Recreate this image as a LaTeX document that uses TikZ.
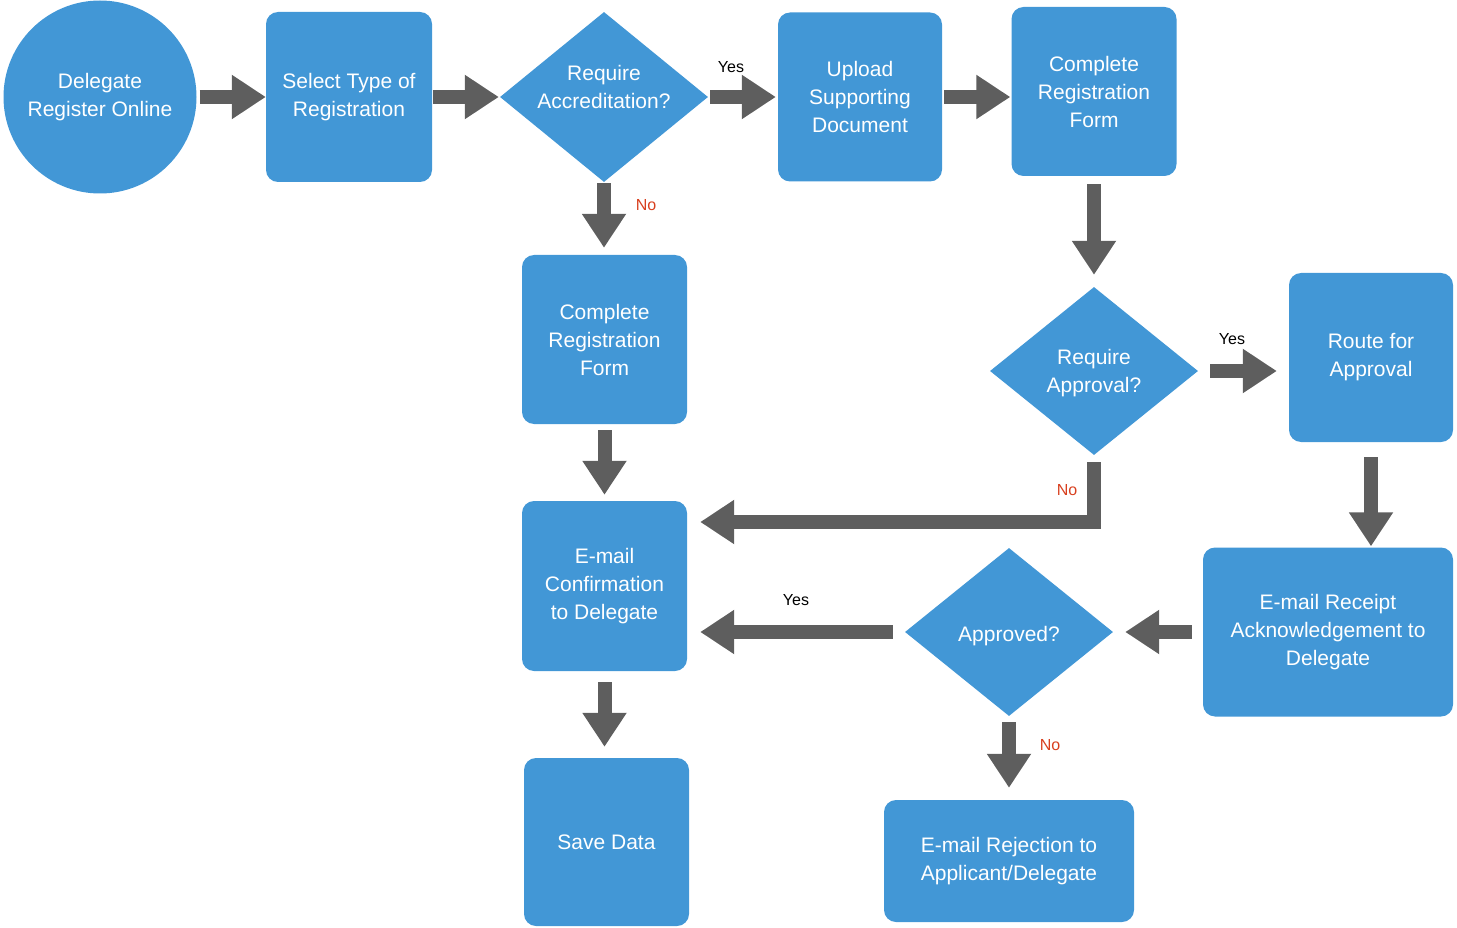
\documentclass[tikz,border=0pt]{standalone}
\usepackage{fontspec}
\setmainfont{Liberation Sans}
\usetikzlibrary{shapes.geometric,arrows.meta}
\definecolor{fblue}{HTML}{4297D6}
\definecolor{fgray}{HTML}{5E5E5E}
\definecolor{fred}{HTML}{D8401F}
\begin{document}
\begin{tikzpicture}[x=1pt,y=-1pt,
  nodetext/.style={text=white, font=\fontsize{21}{28}\selectfont, align=center},
  box/.style={nodetext, fill=fblue, rounded corners=12pt, inner sep=0pt},
  startnode/.style={nodetext, fill=fblue, circle, inner sep=0pt, minimum size=193pt},
  dia/.style={fill=fblue, diamond, inner sep=0pt, minimum width=208pt, minimum height=170pt},
  arr/.style={draw=fgray, line width=14pt, line join=miter,
    -{Triangle[length=34pt,width=42pt]}},
  yes/.style={font=\fontsize{16}{18}\selectfont, text=black},
  no/.style={font=\fontsize{16}{18}\selectfont, text=fred}]
\useasboundingbox (0,0) rectangle (1457,928);

% nodes
\node[startnode] (c) at (100,97) {Delegate\\Register Online};
\node[box, minimum width=166pt, minimum height=170pt] (b1) at (349,97) {Select Type of\\Registration};
\node[dia] (d1) at (604,97) {};
\node[nodetext] (t1) at (604,87) {Require\\Accreditation?};
\node[box, minimum width=164pt, minimum height=169pt] (b2) at (860,97) {Upload\\Supporting\\Document};
\node[box, minimum width=165pt, minimum height=169pt] (b3) at (1094,91.5) {Complete\\Registration\\Form};
\node[box, minimum width=165pt, minimum height=169pt] (b4) at (604.5,339.5) {Complete\\Registration\\Form};
\node[dia, minimum height=168pt] (d2) at (1094,371) {};
\node[nodetext] (t2) at (1094,373) {Require\\Approval?};
\node[box, minimum width=164pt, minimum height=169pt] (b5) at (1371,357.5) {Route for\\Approval};
\node[box, minimum width=165pt, minimum height=170pt] (b6) at (604.5,586) {E-mail\\Confirmation\\to Delegate};
\node[box, minimum width=250pt, minimum height=169pt] (b7) at (1328,632) {E-mail Receipt\\Acknowledgement to\\Delegate};
\node[dia, minimum height=168pt] (d3) at (1009,632) {};
\node[nodetext] (t3) at (1009,636) {Approved?};
\node[box, minimum width=165pt, minimum height=168pt] (b8) at (606.5,842) {Save Data};
\node[box, minimum width=250pt, minimum height=122pt] (b9) at (1009,861) {E-mail Rejection to\\Applicant/Delegate};

\coordinate (k) at (1094,522);

% connectors
\draw[arr, shorten <=3pt] (c) -- (b1);
\draw[arr, shorten <=1pt, shorten >=1pt] (b1) -- (d1);
\draw[arr, shorten <=2pt, shorten >=2pt] (d1) -- (b2);
\draw[arr, shorten <=2pt, shorten >=1pt] (b2.east) -- (b2.east -| b3.west);
\draw[arr, shorten <=1pt, shorten >=7pt] (d1.south) -- (d1.south |- b4.north);
\draw[arr, shorten <=8pt, shorten >=12pt] (b3.south) -- (d2.north);
\draw[arr, shorten <=12pt, shorten >=12pt] (d2.east) -- (d2.east -| b5.west);
\draw[arr, shorten <=6pt, shorten >=6pt] (b4.south) -- (b4.south |- b6.north);
\draw[arr, shorten <=7pt, shorten >=13pt] (d2.south) -- (k) -- (k -| b6.east);
\draw[arr, shorten <=15pt, shorten >=1pt] (b5.south) -- (b5.south |- b7.north);
\draw[arr, shorten <=11pt, shorten >=12pt] (b7.west) -- (d3.east);
\draw[arr, shorten <=12pt, shorten >=13pt] (d3.west) -- (d3.west -| b6.east);
\draw[arr, shorten <=6pt, shorten >=12pt] (d3.south) -- (d3.south |- b9.north);
\draw[arr, shorten <=11pt, shorten >=11pt] (b6.south) -- (b6.south |- b8.north);

% labels
\node[yes] (y1) at (731,67) {Yes};
\node[yes] (y2) at (1232,339) {Yes};
\node[yes] (y3) at (796,600) {Yes};
\node[no] (n1) at (646,205) {No};
\node[no] (n2) at (1067,490) {No};
\node[no] (n3) at (1050,745) {No};
\end{tikzpicture}
\end{document}
